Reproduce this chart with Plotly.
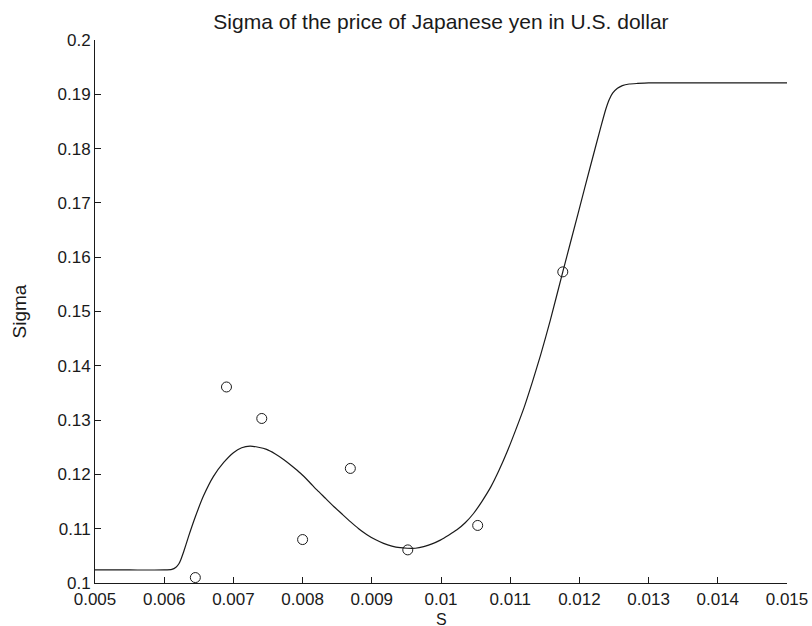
import plotly.graph_objects as go

# Observed volatility points (spot price S in USD per JPY, sigma)
obs_s = [0.00645, 0.0069, 0.00741, 0.0080, 0.00869, 0.00952, 0.01053, 0.01176]
obs_sigma = [0.1010, 0.1361, 0.1303, 0.1080, 0.1211, 0.1061, 0.1106, 0.1573]

# Fitted sigma curve
fit_s = [0.0050, 0.0055, 0.0060, 0.00611, 0.00617, 0.00621, 0.00624, 0.00628,
         0.00635, 0.00645, 0.00657, 0.00671, 0.00686, 0.00700, 0.00712,
         0.00724, 0.00736, 0.00748, 0.00760, 0.00773, 0.00785, 0.00797,
         0.00809, 0.00821, 0.00833, 0.00845, 0.00857, 0.00869, 0.00881,
         0.00893, 0.00905, 0.00917, 0.00929, 0.00941, 0.00951, 0.00963,
         0.00975, 0.00987, 0.00999, 0.01011, 0.01023, 0.01035, 0.01047,
         0.01059, 0.01072, 0.01084, 0.01096, 0.01108, 0.01120, 0.01132,
         0.01144, 0.01158, 0.01176, 0.01199, 0.01216, 0.01231, 0.01238,
         0.01243, 0.01248, 0.01255, 0.01262, 0.01272, 0.01284, 0.0130,
         0.0140, 0.0150]
fit_sigma = [0.1024, 0.1024, 0.1024, 0.1025, 0.1029, 0.1035, 0.1043, 0.1057,
             0.1085, 0.1122, 0.1161, 0.1196, 0.1222, 0.1240, 0.1249,
             0.1252, 0.1250, 0.1246, 0.1238, 0.1227, 0.1215, 0.1202,
             0.1187, 0.1171, 0.1156, 0.1141, 0.1127, 0.1113, 0.1100,
             0.1089, 0.1080, 0.1073, 0.1068, 0.1065, 0.1064, 0.1064,
             0.1067, 0.1072, 0.1079, 0.1088, 0.1098, 0.1111, 0.1128,
             0.1150, 0.1177, 0.1208, 0.1243, 0.1282, 0.1323, 0.1370,
             0.1420, 0.1484, 0.1573, 0.1685, 0.1768, 0.1840, 0.1872,
             0.1890, 0.1902, 0.1911, 0.1916, 0.1919, 0.1920, 0.1921,
             0.1921, 0.1921]

x_ticks = [0.005, 0.006, 0.007, 0.008, 0.009, 0.01, 0.011, 0.012, 0.013, 0.014, 0.015]
x_labels = ["0.005", "0.006", "0.007", "0.008", "0.009", "0.01", "0.011", "0.012", "0.013", "0.014", "0.015"]
y_ticks = [0.10, 0.11, 0.12, 0.13, 0.14, 0.15, 0.16, 0.17, 0.18, 0.19, 0.20]
y_labels = ["0.1", "0.11", "0.12", "0.13", "0.14", "0.15", "0.16", "0.17", "0.18", "0.19", "0.2"]

font_family = "Liberation Sans, Arial, sans-serif"
ink = "#1a1a1a"

fig = go.Figure()
fig.add_trace(go.Scatter(
    x=fit_s, y=fit_sigma, mode="lines",
    line=dict(color=ink, width=1.2, shape="spline", smoothing=0.5),
    showlegend=False, hoverinfo="skip",
))
fig.add_trace(go.Scatter(
    x=obs_s, y=obs_sigma, mode="markers",
    marker=dict(symbol="circle-open", size=10, color=ink, line=dict(width=1)),
    showlegend=False,
))

fig.update_layout(
    width=812, height=626,
    margin=dict(l=95, r=25, t=40, b=43),
    paper_bgcolor="white", plot_bgcolor="white",
    font=dict(family=font_family, size=17, color=ink),
    title=dict(text="Sigma of the price of Japanese yen in U.S. dollar",
               x=0.5, xref="paper", xanchor="center",
               y=1 - 22 / 626, yref="container", yanchor="middle",
               font=dict(size=21)),
    # x-axis title placed below the tick labels
    annotations=[dict(text="S", x=0.5, xref="paper", y=0, yref="paper",
                      xanchor="center", yanchor="top", yshift=-26,
                      showarrow=False, font=dict(size=16, color=ink))],
)

fig.update_xaxes(
    range=[0.005, 0.015], tickvals=x_ticks, ticktext=x_labels,
    ticks="inside", ticklen=6, tickwidth=1, tickcolor=ink,
    showline=True, linecolor=ink, linewidth=1,
    showgrid=False, zeroline=False, mirror=False, automargin=False,
    ticklabelstandoff=1,
)
fig.update_yaxes(
    range=[0.1, 0.2], tickvals=y_ticks, ticktext=y_labels,
    ticks="inside", ticklen=6, tickwidth=1, tickcolor=ink,
    showline=True, linecolor=ink, linewidth=1,
    showgrid=False, zeroline=False, mirror=False, automargin=False,
    title=dict(text="Sigma", standoff=25, font=dict(size=19)),
)

fig.write_html("out.html")
